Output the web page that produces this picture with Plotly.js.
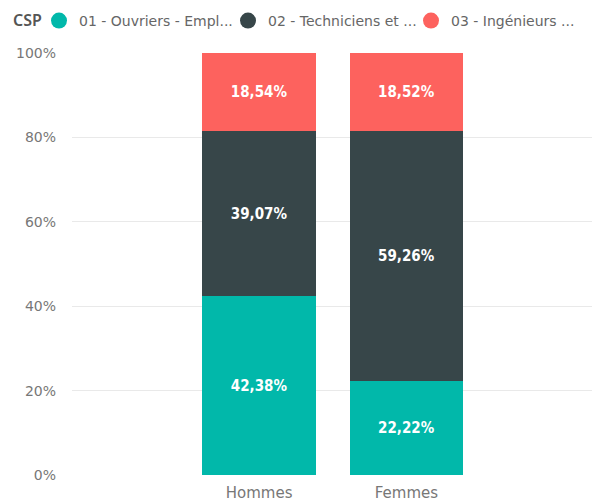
<!DOCTYPE html>
<html><head><meta charset="utf-8">
<script src="https://cdn.plot.ly/plotly-3.0.1.min.js"></script>
<style>html,body{margin:0;padding:0;background:#fff}#chart{width:603px;height:502px}</style>
</head><body><div id="chart"></div>
<script>
const categories = ["Hommes", "Femmes"];
const legendTitle = "CSP";
const seriesNames = ["01 - Ouvriers - Empl...", "02 - Techniciens et ...", "03 - Ingénieurs ..."];
const ouvriers = [42.38, 22.22];
const techniciens = [39.07, 59.26];
const ingenieurs = [18.54, 18.52];
const colors = ["#01B8AA", "#374649", "#FD625E"];
const yTickVals = [0, 20, 40, 60, 80, 100];
const yTickText = ["0%", "20%", "40%", "60%", "80%", "100%"];

const fmt = v => v.toFixed(2).replace(".", ",") + "%";
const series = [ouvriers, techniciens, ingenieurs];
const legendIds = ["legend", "legend2", "legend3"];
const legendX = [39, 228, 411];
const tickFamily = "DejaVu Sans, sans-serif";

const traces = [];
series.forEach((vals, i) => {
  traces.push({
    type: "bar", x: categories, y: vals, name: seriesNames[i],
    marker: {color: colors[i]}, showlegend: false,
    text: vals.map(fmt), textposition: "inside", insidetextanchor: "middle",
    textfont: {color: "#ffffff", size: 15, family: "DejaVu Sans Condensed, Liberation Sans Narrow, sans-serif", weight: 700},
    hoverinfo: "x+y+name"
  });
});
series.forEach((vals, i) => {
  traces.push({
    type: "scatter", mode: "markers", x: [null], y: [null], name: seriesNames[i],
    legend: legendIds[i],
    marker: {color: colors[i], size: 16, symbol: "circle"}, showlegend: true
  });
});

const layout = {
  width: 603, height: 502,
  margin: {l: 72, r: 11, t: 53, b: 27},
  barmode: "stack", bargap: 0.23,
  paper_bgcolor: "#fff", plot_bgcolor: "#fff",
  font: {family: tickFamily, color: "#777"},
  xaxis: {type: "category", range: [-1.27, 2.26], showgrid: false, zeroline: false,
          showline: false, ticks: "", ticklabelstandoff: 7, tickfont: {size: 15, color: "#777", family: tickFamily}, fixedrange: true},
  yaxis: {range: [0, 100], tickvals: yTickVals, ticktext: yTickText, showgrid: true,
          gridcolor: "#e9e9e9", gridwidth: 1, zeroline: false, showline: false,
          ticks: "", ticklabelstandoff: 15, tickfont: {size: 14, color: "#777", family: tickFamily}},
  annotations: [{text: legendTitle, xref: "paper", yref: "paper", x: -61 / 520, xanchor: "left",
                 y: 1 + 33 / 422, yanchor: "middle", showarrow: false,
                 font: {size: 16, color: "#555", family: "Noto Sans, sans-serif", weight: 600}}],
  showlegend: true
};
legendIds.forEach((id, i) => {
  layout[id] = {orientation: "h", xref: "container", yref: "container", x: legendX[i] / 603, xanchor: "left",
                y: 0.99, yanchor: "top",
                font: {size: 14, color: "#666", family: tickFamily}, itemwidth: 30,
                bgcolor: "rgba(0,0,0,0)"};
});
Plotly.newPlot("chart", traces, layout, {displayModeBar: false, staticPlot: true});
</script></body></html>
